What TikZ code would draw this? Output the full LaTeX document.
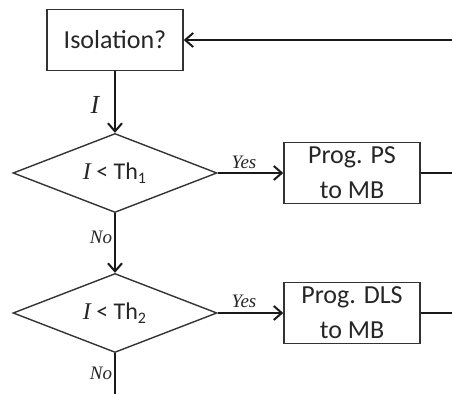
\documentclass[tikz,border=0pt]{standalone}
\usepackage{fontspec}
\setmainfont{Carlito}
\newfontfamily\tnr{Liberation Serif}
\usetikzlibrary{shapes.geometric,arrows.meta}

\begin{document}
\begin{tikzpicture}[x=0.5pt,y=-0.5pt,
    box/.style={draw=black!80, line width=0.7pt, minimum width=68pt, minimum height=30.5pt, inner sep=0pt, align=center, font=\fontsize{13}{17.5}\selectfont, text=black!85},
    decision/.style={draw=black!80, line width=0.7pt, diamond, aspect=2.58, minimum width=102pt, minimum height=39.5pt, inner sep=0pt, font=\fontsize{12}{14}\selectfont, text=black!85},
    flow/.style={line width=1pt, black!90, -{Straight Barb[length=4pt,width=7pt,line width=1pt]}},
    wire/.style={line width=1pt, black!90},
    lbl/.style={inner sep=0pt, font=\fontsize{9.5}{11}\selectfont\tnr\itshape, text=black!85}]
    \useasboundingbox (0,0) rectangle (452,394);

    \coordinate (back) at (452,40);
    \coordinate (out1) at (452,173);
    \coordinate (out2) at (452,313);
    \coordinate (down) at (115,394);

    \node[box] (iso) at (115,40) {Isolation?};
    \node[decision] (th1) at (115,173) {{\tnr\itshape I} < Th\textsubscript{1}};
    \node[decision] (th2) at (115,313) {{\tnr\itshape I} < Th\textsubscript{2}};
    \node[box] (ps) at (352,173) {Prog. PS\\to MB};
    \node[box] (dls) at (352,313) {Prog. DLS\\to MB};

    \node[lbl, font=\fontsize{13}{15}\selectfont\tnr\itshape] (labI) at (95,105) {I};
    \node[lbl] (yes1) at (244,162) {Yes};
    \node[lbl] (yes2) at (244,301) {Yes};
    \node[lbl] (no1) at (101,237) {No};
    \node[lbl] (no2) at (101,373) {No};

    \draw[flow] (back) -- (iso); % loop back
    \draw[flow] (iso) -- (th1);
    \draw[flow] (th1) -- (ps); % yes
    \draw[flow] (th1) -- (th2); % no
    \draw[flow] (th2) -- (dls); % yes
    \draw[wire] (th2.south) -- (down); % no
    \draw[wire] (ps) -- (out1);
    \draw[wire] (dls) -- (out2);
\end{tikzpicture}
\end{document}
